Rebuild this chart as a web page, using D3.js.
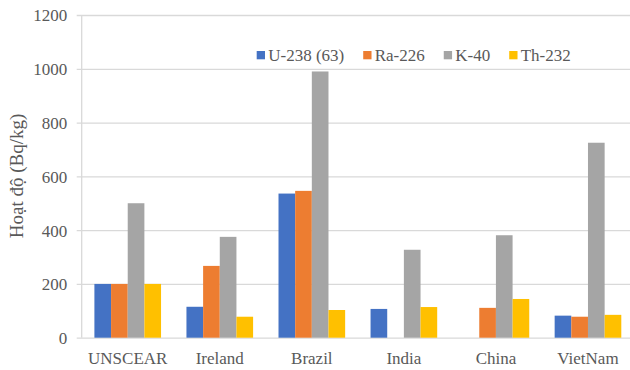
<!DOCTYPE html>
<html><head><meta charset="utf-8">
<script src="https://cdn.jsdelivr.net/npm/d3@7"></script>
<style>html,body{margin:0;padding:0;background:#fff;}svg{display:block;}
svg text{font-family:"Liberation Serif","DejaVu Serif","Times New Roman",serif;}</style>
</head><body>
<script>
const categories = ["UNSCEAR", "Ireland", "Brazil", "India", "China", "VietNam"];
const seriesNames = ["U-238 (63)", "Ra-226", "K-40", "Th-232"];
const u238 = [200, 115, 536, 107, null, 82];
const ra226 = [200, 267, 546, null, 111, 78];
const k40 = [500, 375, 990, 327, 381, 725];
const th232 = [200, 78, 103, 114, 144, 85];
const yTicks = [0, 200, 400, 600, 800, 1000, 1200];
const colors = ["#4472C4", "#ED7D31", "#A5A5A5", "#FFC000"];
const yTitle = "Hoạt độ (Bq/kg)";

const seriesVals = [u238, ra226, k40, th232];
const W = 630, H = 370;
const mLeft = 81.7, mTop = 15, mBottom = 337.7, mRight = 634;
const textCol = "#595959", gridCol = "#d9d9d9";

const svg = d3.select("body").append("svg").attr("width", W).attr("height", H);

const y = d3.scaleLinear().domain([0, 1200]).range([mBottom, mTop]);
const x0 = d3.scaleBand().domain(categories).range([mLeft, mRight]).paddingInner(0.276).paddingOuter(0.138);
const x1 = d3.scaleBand().domain(seriesNames).range([0, x0.bandwidth()]);

// gridlines + y axis
const yAxis = d3.axisLeft(y).tickValues(yTicks).tickSize(-(W - mLeft)).tickPadding(0).tickFormat(d3.format("d"));
const gy = svg.append("g").attr("transform", `translate(${mLeft},0)`).call(yAxis);
gy.attr("font-family", null);
gy.select(".domain").remove();
gy.selectAll(".tick line").attr("stroke", gridCol).attr("stroke-width", 1.3).attr("x1", -5);
gy.selectAll(".tick text").attr("x", -14.5).attr("dy", "0.35em")
  .attr("font-size", 17).attr("fill", textCol);
svg.append("line").attr("x1", mLeft).attr("x2", mLeft).attr("y1", mTop).attr("y2", mBottom)
  .attr("stroke", gridCol).attr("stroke-width", 1.3);

// bars
const groups = svg.append("g").selectAll("g").data(categories).join("g")
  .attr("transform", d => `translate(${x0(d)},0)`);
groups.selectAll("rect")
  .data((c, i) => seriesNames.map((s, j) => ({ s, j, v: seriesVals[j][i] })).filter(d => d.v != null))
  .join("rect")
  .attr("x", d => x1(d.s)).attr("width", x1.bandwidth())
  .attr("y", d => y(d.v)).attr("height", d => y(0) - y(d.v))
  .attr("fill", d => colors[d.j]);

// x axis
const xAxis = d3.axisBottom(x0).tickSize(0).tickPadding(0);
const gx = svg.append("g").attr("transform", `translate(0,${mBottom})`).call(xAxis);
gx.attr("font-family", null);
gx.select(".domain").remove();
gx.selectAll(".tick text").attr("y", 26).attr("dy", 0)
  .attr("font-size", 17).attr("fill", textCol);

// y title
svg.append("text").attr("transform", `translate(23,176) rotate(-90)`)
  .attr("text-anchor", "middle").attr("font-size", 19)
  .attr("fill", textCol).text(yTitle);

// legend
const leg = svg.append("g");
let lx = 256.7;
seriesNames.forEach((s, j) => {
  leg.append("rect").attr("x", lx).attr("y", 51).attr("width", 8.3).attr("height", 8.3).attr("fill", colors[j]);
  const t = leg.append("text").attr("x", lx + 11.5).attr("y", 61)
    .attr("font-size", 17).attr("fill", textCol).text(s);
  lx += 11.5 + t.node().getComputedTextLength() + 19;
});
</script>
</body></html>
